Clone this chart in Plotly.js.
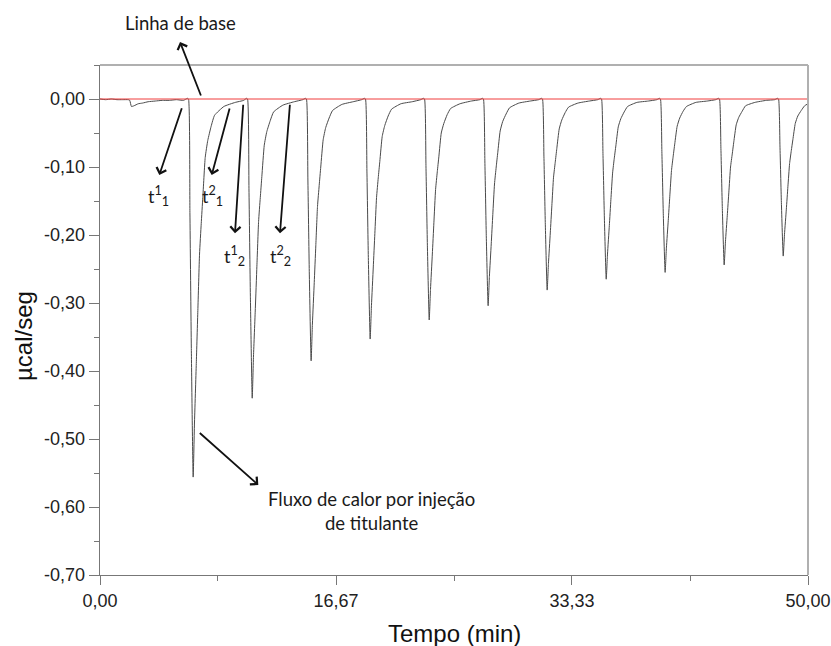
<!DOCTYPE html>
<html>
<head>
<meta charset="utf-8">
<script src="https://cdn.plot.ly/plotly-3.0.1.min.js"></script>
<style>
  html, body { margin: 0; padding: 0; background: #ffffff; }
  #chart { width: 831px; height: 646px; }
</style>
</head>
<body>
<div id="chart"></div>
<script>
// ITC thermogram: heat flow (µcal/seg) against time (min), eleven titrant injections.

// time points (min)
const thermoTime = [
  0, 0.4, 0.8, 1.2, 1.6, 2.0, 2.10, 2.22, 2.4, 2.7, 3.0, 3.4, 3.9, 4.4, 4.9, 5.4, 5.9, 6.17,
  6.25, 6.35, 6.45, 6.58, 6.67, 6.80, 6.91, 7.03, 7.15, 7.26, 7.43, 7.61, 7.85, 8.09, 8.75, 9.55, 10.15, 10.34,
  10.42, 10.52, 10.62, 10.75, 10.84, 10.97, 11.08, 11.20, 11.32, 11.43, 11.60, 11.78, 12.02, 12.26, 12.92, 13.72, 14.32, 14.50,
  14.58, 14.68, 14.78, 14.91, 15.00, 15.13, 15.24, 15.36, 15.48, 15.59, 15.76, 15.94, 16.18, 16.42, 17.08, 17.88, 18.48, 18.67,
  18.75, 18.85, 18.95, 19.08, 19.17, 19.30, 19.41, 19.53, 19.65, 19.76, 19.93, 20.11, 20.35, 20.59, 21.25, 22.05, 22.65, 22.84,
  22.92, 23.02, 23.12, 23.25, 23.34, 23.47, 23.58, 23.70, 23.82, 23.93, 24.10, 24.28, 24.52, 24.76, 25.42, 26.22, 26.82, 27.00,
  27.08, 27.18, 27.28, 27.41, 27.50, 27.63, 27.74, 27.86, 27.98, 28.09, 28.26, 28.44, 28.68, 28.92, 29.58, 30.38, 30.98, 31.17,
  31.25, 31.35, 31.45, 31.58, 31.67, 31.80, 31.91, 32.03, 32.15, 32.26, 32.43, 32.61, 32.85, 33.09, 33.75, 34.55, 35.15, 35.34,
  35.42, 35.52, 35.62, 35.75, 35.84, 35.97, 36.08, 36.20, 36.32, 36.43, 36.60, 36.78, 37.02, 37.26, 37.92, 38.72, 39.32, 39.50,
  39.58, 39.68, 39.78, 39.91, 40.00, 40.13, 40.24, 40.36, 40.48, 40.59, 40.76, 40.94, 41.18, 41.42, 42.08, 42.88, 43.48, 43.67,
  43.75, 43.85, 43.95, 44.08, 44.17, 44.30, 44.41, 44.53, 44.65, 44.76, 44.93, 45.11, 45.35, 45.59, 46.25, 47.05, 47.65, 47.84,
  47.92, 48.02, 48.12, 48.25, 48.34, 48.47, 48.58, 48.70, 48.82, 48.93, 49.10, 49.28, 49.52, 49.76, 50.0
];

// heat flow (µcal/seg)
const heatFlow = [
  0, -0.001, 0.000, -0.001, -0.001, -0.001, -0.002, -0.011, -0.010, -0.007, -0.006, -0.004, -0.003, -0.002, -0.002, -0.001, -0.002, 0.001,
  0, -0.167, -0.367, -0.556, -0.478, -0.389, -0.311, -0.228, -0.183, -0.145, -0.086, -0.061, -0.040, -0.024, -0.011, -0.005, -0.002, 0.001,
  0, -0.132, -0.290, -0.440, -0.378, -0.308, -0.246, -0.180, -0.145, -0.114, -0.068, -0.048, -0.032, -0.019, -0.009, -0.004, -0.001, 0.001,
  0, -0.116, -0.254, -0.385, -0.331, -0.270, -0.216, -0.158, -0.127, -0.100, -0.060, -0.042, -0.028, -0.017, -0.008, -0.004, -0.001, 0.001,
  0, -0.106, -0.233, -0.353, -0.304, -0.247, -0.198, -0.145, -0.116, -0.092, -0.055, -0.039, -0.025, -0.015, -0.007, -0.004, -0.001, 0.001,
  0, -0.098, -0.215, -0.325, -0.280, -0.228, -0.182, -0.133, -0.107, -0.085, -0.050, -0.036, -0.023, -0.014, -0.007, -0.003, -0.001, 0.001,
  0, -0.091, -0.201, -0.304, -0.261, -0.213, -0.170, -0.125, -0.100, -0.079, -0.047, -0.033, -0.022, -0.013, -0.006, -0.003, -0.001, 0.001,
  0, -0.084, -0.185, -0.281, -0.242, -0.197, -0.157, -0.115, -0.093, -0.073, -0.044, -0.031, -0.020, -0.012, -0.006, -0.003, -0.001, 0.001,
  0, -0.080, -0.175, -0.265, -0.228, -0.186, -0.148, -0.109, -0.087, -0.069, -0.041, -0.029, -0.019, -0.011, -0.005, -0.003, -0.001, 0.001,
  0, -0.077, -0.168, -0.255, -0.219, -0.179, -0.143, -0.105, -0.084, -0.066, -0.040, -0.028, -0.018, -0.011, -0.005, -0.003, -0.001, 0.001,
  0, -0.073, -0.161, -0.244, -0.210, -0.171, -0.137, -0.100, -0.081, -0.063, -0.038, -0.027, -0.018, -0.010, -0.005, -0.002, -0.001, 0.001,
  0, -0.069, -0.152, -0.231, -0.199, -0.162, -0.129, -0.095, -0.076, -0.060, -0.036, -0.025, -0.017, -0.010, -0.007
];

// reference baseline
const baselineTime = [0, 50];
const baselineFlow = [0, 0];

// axis ticks
const xTickVals = [0, 16.67, 33.33, 50];
const xTickText = ['0,00', '16,67', '33,33', '50,00'];
const xMinorVals = [8.33, 25, 41.67];
const yTickVals = [0, -0.1, -0.2, -0.3, -0.4, -0.5, -0.6, -0.7];
const yTickText = ['0,00', '-0,10', '-0,20', '-0,30', '-0,40', '-0,50', '-0,60', '-0,70'];

// plot area in page pixels, used to place the notes
const W = 831, H = 646;
const PL = 100, PR = 808, PT = 65, PB = 575;
const px = x => (x - PL) / (PR - PL);
const py = y => (PB - y) / (PB - PT);

const noteFont = { family: 'Lato, "Open Sans", sans-serif', size: 18.5, color: '#1a1a1a' };

function arrow(tailX, tailY, headX, headY) {
  return {
    xref: 'paper', yref: 'paper',
    x: px(headX), y: py(headY),
    ax: tailX - headX, ay: tailY - headY,
    text: '', showarrow: true,
    arrowhead: 4, arrowsize: 1.1, arrowwidth: 1.8, arrowcolor: '#111111',
    standoff: 0, startstandoff: 0
  };
}

function note(text, cx, cy, size) {
  return {
    xref: 'paper', yref: 'paper',
    x: px(cx), y: py(cy),
    xanchor: 'center', yanchor: 'middle',
    text: text, showarrow: false,
    font: Object.assign({}, noteFont, size ? { size: size } : {})
  };
}

const traces = [
  {
    x: thermoTime, y: heatFlow,
    type: 'scatter', mode: 'lines',
    line: { color: '#4a4a4a', width: 1, shape: 'spline', smoothing: 0.45 },
    hoverinfo: 'x+y'
  },
  {
    x: baselineTime, y: baselineFlow,
    type: 'scatter', mode: 'lines',
    line: { color: '#f03c3c', width: 1 },
    hoverinfo: 'skip'
  }
];

const axisFont = { family: '"Liberation Sans", Arial, sans-serif', size: 18, color: '#222222' };

const layout = {
  width: W, height: H,
  margin: { l: PL, r: W - PR, t: PT, b: H - PB, pad: 0 },
  paper_bgcolor: '#ffffff',
  plot_bgcolor: '#ffffff',
  showlegend: false,
  font: axisFont,
  xaxis: {
    range: [0, 50],
    tickmode: 'array', tickvals: xTickVals, ticktext: xTickText,
    ticks: 'outside', ticklen: 9, tickwidth: 1, tickcolor: '#777777',
    minor: { tickmode: 'array', tickvals: xMinorVals, ticks: 'outside', ticklen: 5, tickwidth: 1, tickcolor: '#777777' },
    showgrid: false, zeroline: false,
    showline: true, linecolor: '#777777', linewidth: 1.3,
    tickfont: axisFont
  },
  yaxis: {
    range: [-0.70, 0.05],
    tickmode: 'array', tickvals: yTickVals, ticktext: yTickText,
    ticks: 'outside', ticklen: 10, tickwidth: 1, tickcolor: '#777777',
    minor: { dtick: 0.05, tick0: 0, ticks: 'outside', ticklen: 5, tickwidth: 1, tickcolor: '#777777' },
    showgrid: false, zeroline: false,
    showline: true, linecolor: '#777777', linewidth: 1.3,
    tickfont: axisFont
  },
  shapes: [
    // upper and right frame of the plot box
    { type: 'line', xref: 'paper', yref: 'paper', x0: 0, x1: 1, y0: 1, y1: 1, line: { color: '#b0b0b0', width: 2 } },
    { type: 'line', xref: 'paper', yref: 'paper', x0: 1, x1: 1, y0: 0, y1: 1, line: { color: '#b0b0b0', width: 2 } }
  ],
  annotations: [
    // axis titles
    { xref: 'paper', yref: 'paper', x: px(454), y: py(633), xanchor: 'center', yanchor: 'middle',
      text: 'Tempo (min)', showarrow: false,
      font: { family: '"Liberation Sans", Arial, sans-serif', size: 24, color: '#111111' } },
    { xref: 'paper', yref: 'paper', x: px(23), y: py(336), xanchor: 'center', yanchor: 'middle',
      text: 'µcal/seg', textangle: -90, showarrow: false,
      font: { family: '"Liberation Sans", Arial, sans-serif', size: 24, color: '#111111' } },

    // baseline note
    note('Linha de base', 180, 23),
    arrow(201.5, 97, 180, 42),

    // integration limits of the first two injections
    arrow(182.3, 106.7, 159.3, 175),
    note('t<sup>1</sup><sub>1</sub>', 158, 196, 18),
    arrow(230, 107, 211.7, 175),
    note('t<sup>2</sup><sub>1</sub>', 212, 196, 18),
    arrow(243.3, 103.3, 235, 233.3),
    note('t<sup>1</sup><sub>2</sub>', 234, 256, 18),
    arrow(290, 103.3, 280, 233.3),
    note('t<sup>2</sup><sub>2</sub>', 280, 256, 18),

    // heat flow note
    arrow(198.3, 431.7, 258.3, 485),
    note('Fluxo de calor por injeção<br>de titulante', 371, 511)
  ]
};

Plotly.newPlot('chart', traces, layout, { displayModeBar: false, staticPlot: true });
</script>
</body>
</html>
